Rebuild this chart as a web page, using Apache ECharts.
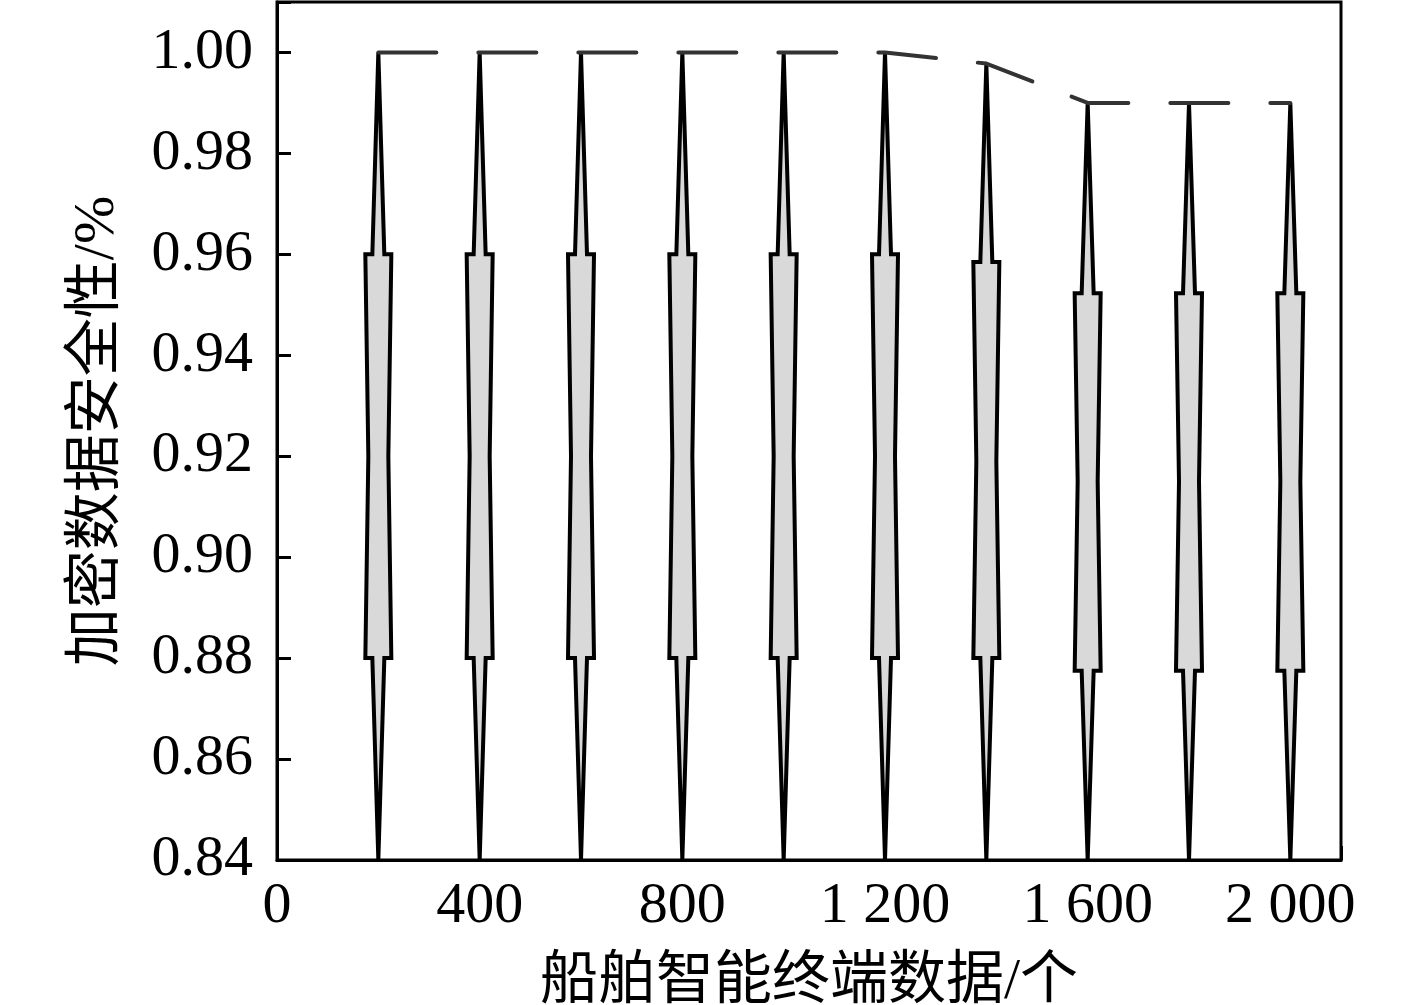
<!DOCTYPE html>
<html>
<head>
<meta charset="utf-8">
<script src="https://cdn.jsdelivr.net/npm/echarts@6/dist/echarts.min.js"></script>
<style>
html,body{margin:0;padding:0;background:#fff;}
#chart{width:1417px;height:1005px;}
</style>
</head>
<body>
<div id="chart"></div>
<script>
// Data
const xValues   = [200, 400, 600, 800, 1000, 1200, 1400, 1600, 1800, 2000];
const minValues = [0.84, 0.84, 0.84, 0.84, 0.84, 0.84, 0.84, 0.84, 0.84, 0.84];
const q1Values  = [0.88, 0.88, 0.88, 0.88, 0.88, 0.88, 0.88, 0.8775, 0.8775, 0.8775];
const medValues = [0.92, 0.92, 0.92, 0.92, 0.92, 0.92, 0.919, 0.915, 0.915, 0.915];
const q3Values  = [0.96, 0.96, 0.96, 0.96, 0.96, 0.96, 0.9585, 0.9523, 0.9523, 0.9523];
const maxValues = [1.00, 1.00, 1.00, 1.00, 1.00, 1.00, 0.9978, 0.99, 0.99, 0.99];
const yTicks = [0.84, 0.86, 0.88, 0.90, 0.92, 0.94, 0.96, 0.98, 1.00];
const xLabelTicks = [0, 400, 800, 1200, 1600, 2000];

const boxData = xValues.map((x, i) => [x, minValues[i], q1Values[i], medValues[i], q3Values[i], maxValues[i]]);
const lineData = xValues.map((x, i) => [x, maxValues[i]]);

const FONT = '"Liberation Serif", "Noto Sans CJK SC", serif';

function fmtX(v) {
  if (xLabelTicks.indexOf(v) < 0) return '';
  return String(v).replace(/\B(?=(\d{3})+(?!\d))/g, ' ');
}
function fmtY(v) {
  for (const t of yTicks) if (Math.abs(t - v) < 1e-6) return t.toFixed(2);
  return '';
}

const chart = echarts.init(document.getElementById('chart'));
chart.setOption({
  backgroundColor: '#fff',
  animation: false,
  grid: {
    left: 277, right: 76, top: 2, bottom: 145,
    containLabel: false, outerBoundsMode: 'none',
    show: true, borderColor: '#000', borderWidth: 3
  },
  xAxis: {
    type: 'value', min: 0, max: 2100, interval: 200,
    axisLine: { show: true, lineStyle: { color: '#000', width: 3 } },
    axisTick: { show: true, inside: true, length: 14, lineStyle: { color: '#000', width: 3 } },
    splitLine: { show: false },
    axisLabel: { formatter: fmtX, color: '#000', fontFamily: FONT, fontSize: 58, margin: 18, showMaxLabel: true, hideOverlap: false },
    name: '船舶智能终端数据/个',
    nameLocation: 'middle', nameGap: 94,
    nameTextStyle: { color: '#000', fontFamily: FONT, fontSize: 58 }
  },
  yAxis: {
    type: 'value', min: 0.84, max: 1.01, interval: 0.02,
    axisLine: { show: true, lineStyle: { color: '#000', width: 3 } },
    axisTick: { show: true, inside: true, length: 14, lineStyle: { color: '#000', width: 3 } },
    splitLine: { show: false },
    axisLabel: { formatter: fmtY, color: '#000', fontFamily: FONT, fontSize: 58, margin: 24 },
    name: '加密数据安全性/%',
    nameLocation: 'middle', nameGap: 150, nameRotate: 90,
    nameTextStyle: { color: '#000', fontFamily: FONT, fontSize: 58 }
  },
  series: [
    {
      type: 'custom',
      data: boxData,
      encode: { x: 0, y: [1, 2, 3, 4, 5] },
      z: 3,
      renderItem: function (params, api) {
        const x = api.value(0);
        const pMin = api.coord([x, api.value(1)]);
        const pQ1 = api.coord([x, api.value(2)]);
        const pMed = api.coord([x, api.value(3)]);
        const pQ3 = api.coord([x, api.value(4)]);
        const pMax = api.coord([x, api.value(5)]);
        const cx = pMed[0];
        const bw = 13, nw = 10, ww = 6;
        const pts = [
          [cx, pMax[1]],
          [cx + ww, pQ3[1]],
          [cx + bw, pQ3[1]],
          [cx + nw, pMed[1]],
          [cx + bw, pQ1[1]],
          [cx + ww, pQ1[1]],
          [cx, pMin[1]],
          [cx - ww, pQ1[1]],
          [cx - bw, pQ1[1]],
          [cx - nw, pMed[1]],
          [cx - bw, pQ3[1]],
          [cx - ww, pQ3[1]]
        ];
        return {
          type: 'polygon',
          shape: { points: pts },
          style: { fill: '#d9d9d9', stroke: '#000', lineWidth: 4, lineJoin: 'miter', miterLimit: 4 }
        };
      }
    },
    {
      type: 'line',
      data: lineData,
      z: 4,
      symbol: 'none',
      lineStyle: { color: '#333', width: 4, type: [58, 42], cap: 'round' }
    }
  ]
});
</script>
</body>
</html>
